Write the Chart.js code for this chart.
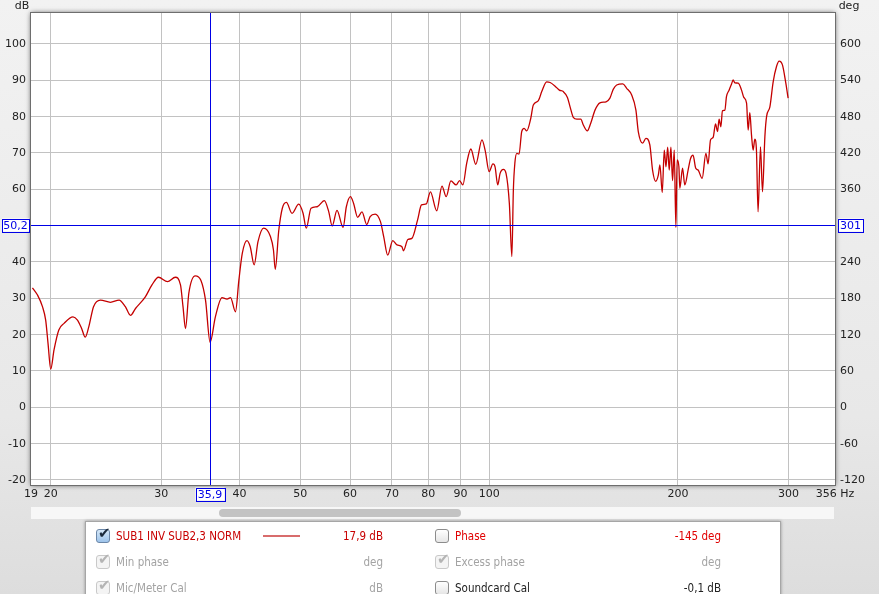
<!DOCTYPE html>
<html>
<head>
<meta charset="utf-8">
<script src="https://cdn.jsdelivr.net/npm/chart.js@4.4.1/dist/chart.umd.min.js"></script>
<style>
body { margin: 0; background: #e2e2e2; }
#wrap { position: relative; width: 879px; height: 594px; overflow: hidden;
  background: linear-gradient(#f2f2f2, #e8e8e8 70%, #dddddd); }
#chart { position: absolute; left: 0; top: 0; }
#track { position: absolute; left: 31px; top: 507px; width: 803px; height: 12px; background: #f7f7f7; }
#thumb { position: absolute; left: 188px; top: 2px; width: 242px; height: 8px; background: #c3c3c3; border-radius: 4px; }
#legend { position: absolute; left: 85px; top: 521px; width: 694px; height: 90px; background: #fff;
  border: 1px solid #a6a6a6; box-shadow: 0 0 3px rgba(0,0,0,.35);
  font-family: "DejaVu Sans Condensed", "Liberation Sans", sans-serif; font-size: 11.5px; }
#legend span { position: absolute; line-height: 14px; white-space: nowrap; }
.cb { width: 12px; height: 12px; border: 1px solid #8c8c8c; border-radius: 3px;
  background: linear-gradient(#ffffff, #e6e6e6); }
.cb.on { background: linear-gradient(#d6e8f8, #9dc3ea); border-color: #6b87a8; }
.cb.dis { border-color: #c9c9c9; background: #f4f4f4; }
.cb i { position: absolute; left: 1px; top: -4px; font-style: normal; font-size: 15px; font-family: "DejaVu Sans"; color: #1b2a3c; }
.cb.dis i { color: #b4b4b4; }
.red { color: #c80000; }
.bright { color: #e00000; }
.gray { color: #a3a3a3; }
.blk { color: #222; }
.r { text-align: right; width: 120px; }
</style>
</head>
<body>
<div id="wrap">
  <canvas id="chart" width="879" height="594"></canvas>
  <div id="track"><div id="thumb"></div></div>
  <div id="legend">
    <span class="cb on" style="left:10px;top:7px"><i>✔</i></span>
    <span class="red" style="left:30px;top:7px">SUB1 INV SUB2,3 NORM</span>
    <span style="left:177px;top:13px;width:37px;height:2px;background:#d86c6c"></span>
    <span class="red r" style="left:177px;top:7px">17,9 dB</span>
    <span class="cb" style="left:349px;top:7px"></span>
    <span class="bright" style="left:369px;top:7px">Phase</span>
    <span class="bright r" style="left:515px;top:7px">-145 deg</span>

    <span class="cb dis" style="left:10px;top:33px"><i>✔</i></span>
    <span class="gray" style="left:30px;top:33px">Min phase</span>
    <span class="gray r" style="left:177px;top:33px">deg</span>
    <span class="cb dis" style="left:349px;top:33px"><i>✔</i></span>
    <span class="gray" style="left:369px;top:33px">Excess phase</span>
    <span class="gray r" style="left:515px;top:33px">deg</span>

    <span class="cb dis" style="left:10px;top:59px"><i>✔</i></span>
    <span class="gray" style="left:30px;top:59px">Mic/Meter Cal</span>
    <span class="gray r" style="left:177px;top:59px">dB</span>
    <span class="cb" style="left:349px;top:59px"></span>
    <span class="blk" style="left:369px;top:59px">Soundcard Cal</span>
    <span class="blk r" style="left:515px;top:59px">-0,1 dB</span>
  </div>
</div>
<script>
// SPL trace (Hz, dB)
var freqs = [18.7, 19.05, 19.4, 19.63, 19.8, 20.0, 20.24, 20.6, 21.0, 21.7, 22.06, 22.4, 22.7, 23.0, 23.4,
  24.0, 24.9, 25.7, 26.3, 26.8, 27.3, 28.3, 29.0, 29.7, 30.7, 31.6, 32.2, 32.5, 32.8, 33.2,
  34.0, 34.7, 35.3, 35.9, 36.6, 37.5, 38.2, 38.7, 39.4, 39.9, 40.4, 41.1, 41.6, 42.2, 42.8,
  43.7, 44.8, 45.3, 45.6, 46.2, 46.8, 47.5, 48.5, 49.7, 50.5, 51.1, 52.0, 53.2, 54.6, 55.5,
  56.2, 57.2, 58.5, 59.2, 60.1, 60.8, 61.7, 62.7, 63.8, 64.6, 65.8, 67.1, 67.9, 68.9, 70.2,
  71.3, 72.6, 73.0, 74.2, 75.3, 76.9, 78.0, 79.4, 80.6, 82.5, 84.1, 85.4, 86.9, 88.6, 89.7,
  90.8, 92.1, 93.5, 95.2, 97.4, 98.6, 100, 101.4, 102.2, 103.2, 104.1, 105.4, 106.4, 107.7, 108.7,
  109.3, 109.9, 110.7, 111.6, 112.7, 113.7, 114.8, 116.5, 117.6, 119.8, 121.3, 123.5, 125.1, 127.4, 129.4,
  131.3, 133.3, 134.6, 136.2, 138.0, 140.0, 141.3, 143.4, 145.2, 147.5, 150.2, 153.6, 155.8, 157.7, 159.7,
  163.3, 165.7, 168.7, 171.4, 172.9, 175.7, 177.8, 180.4, 182.2, 184.3, 186.1, 187.2, 188.8, 190.2, 191.4,
  192.6, 193.7, 194.9, 196.1, 197.3, 198.5, 199.4, 200.7, 201.4, 203.4, 205.1, 207.6, 209.5, 211.4, 213.5,
  215.4, 218.6, 221.6, 223.4, 225.4, 227.6, 229.6, 231.3, 232.6, 234.1, 235.5, 237.6, 239.0, 241.3, 243.5,
  244.9, 246.5, 249.5, 252.6, 254.7, 257.3, 258.8, 260.4, 262.0, 263.6, 265.2, 266.8, 268.4, 270.8, 272.8,
  275.2, 276.9, 280.3, 283.7, 287.2, 290.0, 293.6, 297.2, 299.7];
var splDb = [32.9, 30.9, 27.7, 24.0, 17.6, 10.5, 15.8, 21.3, 23.1, 24.9, 24.0, 21.7, 19.3, 22.2, 27.7,
  29.5, 28.9, 29.5, 27.7, 25.3, 27.2, 30.4, 33.7, 35.8, 34.6, 35.8, 33.7, 27.7, 21.7, 31.4,
  36.2, 35.0, 29.5, 17.9, 24.9, 30.2, 29.8, 30.2, 26.3, 35.0, 42.4, 45.9, 44.2, 39.2, 45.6,
  49.3, 47.0, 43.3, 38.0, 48.8, 54.8, 56.4, 53.4, 55.9, 53.4, 49.3, 54.8, 55.2, 56.9, 53.8,
  49.9, 54.2, 49.5, 55.2, 58.0, 56.1, 52.3, 53.8, 50.3, 52.5, 53.2, 51.1, 47.0, 41.9, 45.9,
  44.7, 44.2, 43.1, 46.2, 46.5, 51.6, 55.7, 56.0, 59.3, 54.1, 60.9, 58.0, 62.3, 61.2, 62.4,
  61.2, 67.2, 71.1, 66.9, 73.6, 70.5, 64.9, 67.0, 66.2, 61.2, 64.4, 65.5, 64.4, 56.1, 41.5,
  59.8, 67.2, 69.9, 69.7, 75.9, 76.8, 76.1, 79.5, 83.2, 84.4, 86.9, 89.6, 89.4, 88.4, 87.3,
  86.9, 85.3, 82.7, 79.8, 79.3, 79.3, 77.7, 76.1, 78.2, 81.8, 83.8, 84.1, 85.1, 87.5, 88.7,
  89.0, 87.8, 86.0, 81.8, 75.9, 72.7, 74.0, 72.2, 65.3, 62.2, 63.9, 66.7, 59.1, 70.8, 66.2,
  71.6, 65.3, 71.6, 62.4, 70.8, 49.5, 68.1, 66.2, 60.3, 65.8, 61.2, 65.3, 68.5, 69.4, 65.8,
  65.3, 63.0, 69.9, 67.0, 73.6, 74.3, 78.0, 75.9, 79.3, 77.2, 81.6, 81.8, 85.5, 87.3, 89.0,
  90.1, 89.3, 89.2, 87.3, 85.3, 83.7, 76.3, 81.1, 75.0, 70.8, 73.8, 70.8, 53.8, 71.7, 59.3,
  74.5, 80.0, 82.7, 89.6, 93.8, 95.3, 94.2, 89.2, 85.1];

var freqTicks = [18.6, 20, 30, 40, 50, 60, 70, 80, 90, 100, 200, 300, 356];
var freqTickLabels = ['19', '20', '30', '40', '50', '60', '70', '80', '90', '100', '200', '300', '356 Hz'];
var dbTicks = [-20, -10, 0, 10, 20, 30, 40, 50, 60, 70, 80, 90, 100];
var degTicks = [-120, -60, 0, 60, 120, 180, 240, 300, 360, 420, 480, 540, 600];

var cursorFreq = 35.9;
var cursorLevel = 50.2;

var dbMin = -21.38, dbMax = 108.53;
var degPerDb = 6;
var tickFont = { family: 'DejaVu Sans', size: 11 };
var cursorBlue = '#0000e6';

function comma(v) {
  return v.toFixed(1).replace('.', ',');
}

function valueBox(ctx, text, cx, cy, w) {
  ctx.fillStyle = '#fff';
  ctx.fillRect(cx - w / 2, cy - 6.5, w, 13);
  ctx.strokeStyle = cursorBlue;
  ctx.lineWidth = 1;
  ctx.strokeRect(Math.round(cx - w / 2) + 0.5, Math.round(cy - 6.5) + 0.5, w, 13);
  ctx.fillStyle = cursorBlue;
  ctx.textAlign = 'center';
  ctx.textBaseline = 'middle';
  ctx.fillText(text, cx, cy + 1);
}

var rewPlot = {
  id: 'rewPlot',
  beforeDraw: function (chart) {
    var ctx = chart.ctx, a = chart.chartArea;
    ctx.save();
    ctx.shadowColor = 'rgba(0,0,0,0.7)';
    ctx.shadowBlur = 5;
    ctx.fillStyle = '#fff';
    ctx.fillRect(a.left, a.top, a.right - a.left, a.bottom - a.top);
    ctx.restore();
  },
  afterDatasetsDraw: function (chart) {
    var ctx = chart.ctx, a = chart.chartArea;
    var sx = chart.scales.x, sy = chart.scales.y;
    var px = Math.round(sx.getPixelForValue(cursorFreq)) + 0.5;
    var py = Math.round(sy.getPixelForValue(cursorLevel)) + 0.5;
    ctx.save();
    ctx.strokeStyle = cursorBlue;
    ctx.lineWidth = 1;
    ctx.beginPath();
    ctx.moveTo(px, a.top); ctx.lineTo(px, a.bottom);
    ctx.moveTo(a.left, py); ctx.lineTo(a.right, py);
    ctx.stroke();

    // frame
    ctx.strokeStyle = '#6e6e6e';
    ctx.strokeRect(a.left - 0.5, a.top - 0.5, a.right - a.left + 1, a.bottom - a.top + 1);

    ctx.font = '11px "DejaVu Sans"';
    valueBox(ctx, comma(cursorLevel), 15.5, py - 0.5, 27);
    valueBox(ctx, String(Math.round(cursorLevel * degPerDb)), 850.5, py - 0.5, 25);
    valueBox(ctx, comma(cursorFreq), px - 0.5, 494, 29);

    ctx.fillStyle = '#222';
    ctx.textBaseline = 'middle';
    ctx.textAlign = 'center';
    ctx.fillText('dB', 22, 6);
    ctx.fillText('deg', 849, 6);
    ctx.restore();
  }
};

var points = freqs.map(function (f, i) {
  return { x: f, y: splDb[i] };
});

new Chart(document.getElementById('chart'), {
  type: 'line',
  data: {
    datasets: [{
      label: 'SUB1 INV SUB2,3 NORM',
      data: points,
      borderColor: '#c40000',
      borderWidth: 1.3,
      pointRadius: 0,
      cubicInterpolationMode: 'monotone',
      fill: false
    }]
  },
  options: {
    responsive: false,
    animation: false,
    devicePixelRatio: 1,
    layout: { padding: { top: 13, bottom: 89, left: 0, right: 0 } },
    plugins: { legend: { display: false }, tooltip: { enabled: false } },
    scales: {
      x: {
        type: 'logarithmic',
        min: 18.6,
        max: 356,
        afterBuildTicks: function (scale) {
          scale.ticks = freqTicks.map(function (v) { return { value: v }; });
        },
        afterFit: function (scale) { scale.height = 20; },
        ticks: {
          autoSkip: false,
          maxRotation: 0,
          padding: 3,
          color: '#222',
          font: tickFont,
          callback: function (v, i) { return freqTickLabels[i]; }
        },
        grid: {
          drawTicks: false,
          color: function (c) {
            return (c.index === 0 || c.index === freqTicks.length - 1) ? 'rgba(0,0,0,0)' : '#c2c2c2';
          }
        },
        border: { display: false }
      },
      y: {
        position: 'left',
        min: dbMin,
        max: dbMax,
        afterBuildTicks: function (scale) {
          scale.ticks = dbTicks.map(function (v) { return { value: v }; });
        },
        afterFit: function (scale) { scale.width = 31; },
        ticks: { padding: 5, color: '#222', font: tickFont },
        grid: { drawTicks: false, color: '#c2c2c2' },
        border: { display: false }
      },
      y2: {
        position: 'right',
        min: dbMin * degPerDb,
        max: dbMax * degPerDb,
        afterBuildTicks: function (scale) {
          scale.ticks = degTicks.map(function (v) { return { value: v }; });
        },
        afterFit: function (scale) { scale.width = 44; },
        ticks: { padding: 5, color: '#222', font: tickFont },
        grid: { display: false, drawTicks: false },
        border: { display: false }
      }
    }
  },
  plugins: [rewPlot]
});
</script>
</body>
</html>
